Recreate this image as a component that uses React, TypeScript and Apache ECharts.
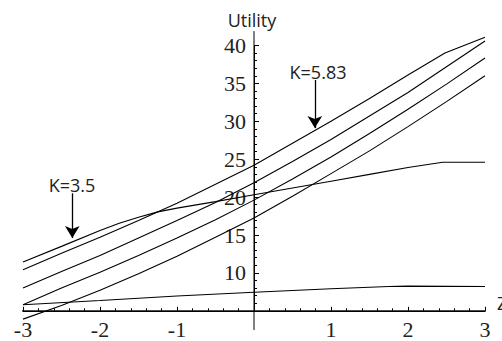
import React, { useEffect, useRef } from "react";
import * as echarts from "echarts";

// x positions (Z) shared by the straight-ish curves
const Z_GRID = [-3, -2.5, -2, -1.5, -1, -0.5, 0, 0.5, 1, 1.5, 2, 2.5, 3];
const CURVE_E = [3.9, 5.7, 7.7, 9.9, 12.2, 14.7, 17.25, 20.1, 23.1, 26.1, 29.3, 32.6, 36.0];
const CURVE_D = [5.8, 8.0, 10.1, 12.3, 14.6, 17.0, 19.6, 22.4, 25.3, 28.4, 31.6, 34.9, 38.35];
const CURVE_C = [8.0, 10.2, 12.3, 14.6, 16.9, 19.3, 21.9, 24.7, 27.6, 30.7, 33.8, 37.2, 40.6];

// top curve (K=5.83) with its kink near Z=2.48
const Z_B = [-3, -2.5, -2, -1.5, -1, -0.5, 0, 0.5, 1, 1.5, 2, 2.48, 3];
const CURVE_B = [10.4, 12.6, 14.7, 16.9, 19.2, 21.7, 24.2, 27.1, 30.0, 33.0, 36.1, 39.0, 41.1];

// curve for K=3.5 that bends and levels off
const Z_F = [-3, -2.5, -2, -1.75, -1.5, -1.25, -1, -0.5, 0, 0.5, 1, 1.5, 2, 2.45, 3];
const CURVE_F = [11.44, 13.5, 15.6, 16.55, 17.35, 18.05, 18.55, 19.4, 20.3, 21.2, 22.1, 23.0, 23.9, 24.6, 24.6];

// nearly flat bottom curve
const Z_G = [-3, -2, -1, 0, 1, 1.75, 2, 3];
const CURVE_G = [5.8, 6.35, 6.95, 7.45, 7.9, 8.2, 8.25, 8.2];

// axis extents (Mathematica plot range)
const X_AXIS_EXTENT = [-3.14, 3.13];
const Y_AXIS_EXTENT = [2.47, 41.9];
const AXIS_CROSS_Y = 5;

// annotation arrows: [z, yStart, yEnd]
const ARROW_K583 = [0.79, 35.45, 29.1];
const ARROW_K35 = [-2.36, 20.5, 14.6];

const zip = (xs: number[], ys: number[]) => xs.map((x, i) => [x, ys[i]]);

export default function App() {
  const ref = useRef<HTMLDivElement>(null);
  useEffect(() => {
    if (!ref.current) return;
    const chart = echarts.init(ref.current, undefined, { renderer: "svg" });
    const curveStyle = { color: "#000", width: 1.1 };
    const mkCurve = (data: number[][]) => ({
      type: "line",
      data,
      symbol: "none",
      clip: false,
      silent: true,
      lineStyle: curveStyle,
    });
    const tickFont = { fontFamily: "Liberation Serif", fontSize: 22, color: "#222" };
    const G_LEFT = 23;
    const G_RIGHT = 17;
    const G_TOP = 45.5;
    const G_BOTTOM = 30.2;
    const zeroX = G_LEFT + (502 - G_LEFT - G_RIGHT) / 2;
    chart.setOption({
      animation: false,
      grid: [
        { left: G_LEFT, right: G_RIGHT, top: G_TOP, bottom: G_BOTTOM, outerBoundsMode: "none", containLabel: false },
        { left: zeroX, right: G_RIGHT, top: G_TOP, bottom: G_BOTTOM, outerBoundsMode: "none", containLabel: false },
      ],
      xAxis: [
        {
          type: "value",
          gridIndex: 0,
          min: -3,
          max: 3,
          interval: 1,
          axisLine: { onZero: false, lineStyle: { color: "#000", width: 1 } },
          axisTick: { inside: true, length: 4, lineStyle: { color: "#000" } },
          minorTick: { show: true, splitNumber: 5, length: 2.5, lineStyle: { color: "#000" } },
          splitLine: { show: false },
          minorSplitLine: { show: false },
          axisLabel: {
            ...tickFont,
            margin: 8,
            formatter: (v: number) => (v === 0 ? "" : String(v)),
          },
        },
        { type: "value", gridIndex: 1, min: 0, max: 3, show: false },
      ],
      yAxis: [
        { type: "value", gridIndex: 0, min: 5, max: 40, show: false },
        {
          type: "value",
          gridIndex: 1,
          position: "left",
          min: 5,
          max: 40,
          interval: 5,
          axisLine: { show: true, onZero: false, lineStyle: { color: "#000", width: 1 } },
          axisTick: { inside: true, length: 5, lineStyle: { color: "#000" } },
          minorTick: { show: true, splitNumber: 5, length: 3, lineStyle: { color: "#000" } },
          splitLine: { show: false },
          minorSplitLine: { show: false },
          axisLabel: {
            ...tickFont,
            margin: 8,
            formatter: (v: number) => (v === 5 ? "" : String(v)),
          },
        },
      ],
      series: [
        {
          type: "line",
          data: [
            [X_AXIS_EXTENT[0], AXIS_CROSS_Y],
            [X_AXIS_EXTENT[1], AXIS_CROSS_Y],
          ],
          symbol: "none",
          clip: false,
          silent: true,
          lineStyle: { color: "#000", width: 1 },
          markLine: {
            silent: true,
            symbol: ["none", "arrow"],
            symbolSize: [11, 12],
            label: { show: false },
            lineStyle: { color: "#000", width: 1.3, type: "solid" },
            data: [
              [{ coord: [ARROW_K583[0], ARROW_K583[1]] }, { coord: [ARROW_K583[0], ARROW_K583[2]] }],
              [{ coord: [ARROW_K35[0], ARROW_K35[1]] }, { coord: [ARROW_K35[0], ARROW_K35[2]] }],
            ],
          },
        },
        {
          type: "line",
          data: [
            [0, Y_AXIS_EXTENT[0]],
            [0, Y_AXIS_EXTENT[1]],
          ],
          symbol: "none",
          clip: false,
          silent: true,
          lineStyle: { color: "#000", width: 1 },
        },
        mkCurve(zip(Z_B, CURVE_B)),
        mkCurve(zip(Z_GRID, CURVE_C)),
        mkCurve(zip(Z_GRID, CURVE_D)),
        mkCurve(zip(Z_GRID, CURVE_E)),
        mkCurve(zip(Z_F, CURVE_F)),
        mkCurve(zip(Z_G, CURVE_G)),
      ],
      graphic: [
        {
          type: "text",
          x: 252,
          y: 20,
          style: { text: "Utility", font: '18px "Open Sans"', fill: "#222", align: "center", verticalAlign: "middle" },
        },
        {
          type: "text",
          x: 497,
          y: 303,
          style: { text: "Z", font: '18px "Open Sans"', fill: "#222", align: "left", verticalAlign: "middle" },
        },
        {
          type: "text",
          x: 318,
          y: 72,
          style: { text: "K=5.83", font: '18px "Open Sans"', fill: "#222", align: "center", verticalAlign: "middle" },
        },
        {
          type: "text",
          x: 72,
          y: 185,
          style: { text: "K=3.5", font: '18px "Open Sans"', fill: "#222", align: "center", verticalAlign: "middle" },
        },
      ],
    });
    return () => chart.dispose();
  }, []);
  return <div ref={ref} style={{ position: "absolute", left: 0, top: 0, width: 502, height: 341 }} />;
}
